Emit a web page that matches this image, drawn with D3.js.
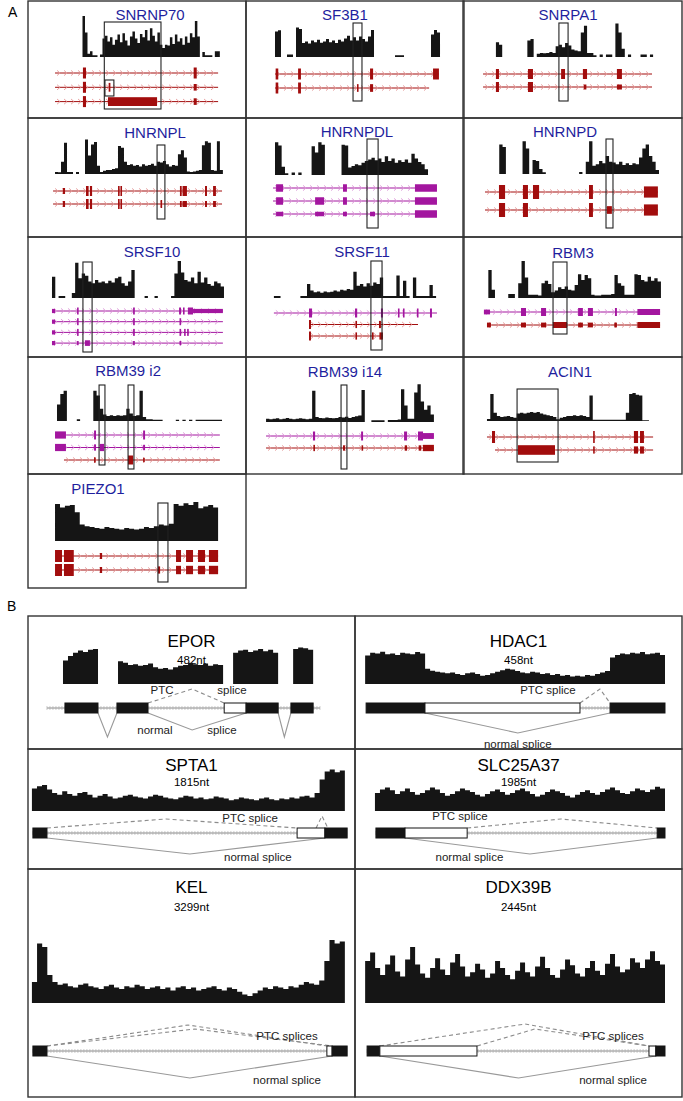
<!DOCTYPE html>
<html><head><meta charset="utf-8">
<script src="https://cdn.jsdelivr.net/npm/d3@7"></script>
<style>body{margin:0;background:#fff}svg{display:block}</style>
</head><body><svg id="c" width="683" height="1101"></svg>
<script>
// ================= PANEL A DATA =================
const genesA = ["SNRNP70","SF3B1","SNRPA1","HNRNPL","HNRNPDL","HNRNPD","SRSF10","SRSF11","RBM3","RBM39 i2","RBM39 i14","ACIN1","PIEZO1"];

// coverage (percent of track height), evenly binned across each gene's covered span
const cov_SNRNP70 = [100,60,8,14,4,4,0,6,45,52,38,48,30,42,55,36,58,40,28,50,62,45,34,56,48,66,40,70,52,38,60,30,22,30,28,48,32,55,38,46,30,50,35,58,48,88,50,0,12,4,4,4,0,14,14];
const cov_SF3B1 = [62,65,0,0,6,6,0,72,68,34,38,33,40,36,42,35,38,44,36,40,34,42,38,45,52,40,48,40,50,44,38,50,66,0,0,0,0,0,0,0,4,4,4,0,0,0,0,0,0,0,0,0,55,66,60];
const cov_SNRPA1 = [36,30,0,0,0,0,0,0,0,0,40,44,0,8,10,9,10,12,10,26,30,24,34,28,18,16,14,60,76,10,10,4,0,6,0,6,6,0,82,60,20,0,6,0,0,0,6,6,0,6];
const cov_HNRNPL = [5,4,30,76,5,5,0,5,0,0,84,45,72,78,20,5,8,10,10,12,14,68,64,30,22,24,20,22,18,24,20,22,25,20,30,28,32,24,18,22,20,48,58,40,6,5,6,8,10,70,80,76,10,8,80,10];
const cov_HNRNPDL = [80,72,20,4,0,6,0,6,0,0,0,70,55,80,74,0,0,0,0,0,74,72,18,22,26,24,30,34,38,42,36,40,32,46,34,40,30,36,32,38,30,52,40,32,26,14];
const cov_HNRNPD = [0,72,66,0,0,0,0,0,80,62,0,34,32,12,4,0,0,0,0,0,0,0,0,0,0,5,0,30,80,20,24,32,26,44,30,28,24,30,22,26,22,26,24,40,62,72,44,30,10];
const cov_SRSF10 = [52,0,5,5,0,0,12,86,48,60,54,40,36,44,38,40,36,42,38,48,52,36,30,40,68,0,0,0,5,0,0,5,0,0,0,0,5,60,90,62,44,40,50,36,64,38,50,34,30,40,36,28];
const cov_SRSF11 = [5,5,0,0,0,0,0,0,5,5,34,18,14,16,13,16,14,15,18,16,20,18,22,20,64,30,34,28,36,30,38,34,50,5,5,5,5,55,5,42,5,0,50,5,5,5,5,32,5];
const cov_RBM3 = [0,68,20,0,0,0,0,10,10,0,36,90,50,8,8,8,6,36,42,34,14,18,26,22,28,20,18,32,58,44,56,48,8,6,6,8,8,8,10,56,36,30,8,8,8,58,56,44,40,52,42,48,40];
const cov_RBM39i2 = [40,66,74,0,0,0,4,0,0,0,0,74,62,30,16,12,14,12,14,13,14,30,18,12,14,74,10,4,4,3,3,3,0,0,0,0,3,0,3,0,3,0,3,3,3,3,3,3,3,3];
const cov_RBM39i14 = [8,7,8,9,7,8,10,8,7,8,9,8,7,8,76,12,10,9,11,10,9,10,12,11,13,10,12,14,16,78,0,0,4,4,4,4,0,5,5,5,6,80,40,8,8,72,92,50,30,40,18];
const cov_ACIN1 = [5,66,20,12,10,11,12,10,8,18,20,18,20,22,20,22,18,16,14,12,10,4,8,10,12,12,14,12,14,12,10,62,3,3,3,3,3,3,3,3,3,3,20,66,68,64,62,2,2];
const cov_PIEZO1 = [90,82,86,88,70,40,36,34,32,30,34,32,30,28,32,30,28,30,34,32,36,40,38,42,90,86,92,88,95,80,84,88,82];
const covA = [cov_SNRNP70,cov_SF3B1,cov_SNRPA1,cov_HNRNPL,cov_HNRNPDL,cov_HNRNPD,cov_SRSF10,cov_SRSF11,cov_RBM3,cov_RBM39i2,cov_RBM39i14,cov_ACIN1,cov_PIEZO1];
// genomic span (0-100 window units) covered by each coverage track
const covSpanA = [[25,88],[13.3,89],[15.1,87.2],[12.4,89.4],[13.3,83.5],[15.1,89.9],[11,89.9],[12.8,87.2],[10.1,90.8],[13.3,89],[9.2,86.2],[11,85.3],[12.4,87.2]];

// transcripts: [colour, start, end, exons [start, end, relative height]]
const tx_SNRNP70 = [
  ["r",12.4,87.2,[[25.2,26.6,1],[76,77.4,1]]],
  ["r",12.4,87.2,[[25.2,26.6,1],[37,37.8,0.8],[76,77.4,0.6]]],
  ["r",12.4,87.2,[[25.2,26.6,1],[36.7,59.2,0.8],[76,77.4,0.6]]]];
const tx_SF3B1 = [
  ["r",13.3,88.5,[[13.6,14.8,1],[23.9,25.2,1],[56.9,58.3,1],[85.8,88.5,1]]],
  ["r",13.3,84,[[13.6,14.8,1],[23.9,25.2,1],[50.9,51.6,0.7],[56.9,58.3,0.7]]]];
const tx_SNRPA1 = [
  ["r",9.2,86.7,[[15.1,16.5,1],[29.8,32.1,1],[45,46.8,1],[55,56.9,1],[70.6,72.9,1]]],
  ["r",9.2,86.7,[[15.1,16.5,1],[29.8,32.1,1],[55.4,56.6,0.5],[70.6,72.9,0.5]]]];
const tx_HNRNPL = [
  ["r",11.5,89,[[16,17,0.6],[26.6,27.8,1],[28.4,29.4,1],[41.3,42,1],[42.4,42.9,1],[69.7,70.5,1],[70.9,72.9,1],[81.2,82.1,1],[84.9,86.2,1]]],
  ["r",11.5,89,[[16,17,0.6],[26.6,27.8,1],[28.4,29.4,1],[41.3,42,1],[42.4,42.9,1],[60.8,61.4,0.8],[69.7,70.5,0.6],[70.9,72.9,0.6],[81.2,82.1,0.6],[84.9,86.2,0.6]]]];
const tx_HNRNPDL = [
  ["m",12.4,87.6,[[13.8,17,1],[44.5,46.3,1],[77.5,87.6,1]]],
  ["m",12.4,87.6,[[13.8,17,1],[31.7,35.8,1],[44.5,46.3,1],[77.5,87.6,1]]],
  ["m",12.4,87.6,[[13.8,17,0.6],[31.7,35.8,0.6],[44.5,46.3,0.6],[56.9,59.2,0.6],[77.5,87.6,1]]]];
const tx_HNRNPD = [
  ["r",10.1,89.4,[[16.5,19.3,1],[27.5,29.8,1],[32.1,34.9,1],[57.8,59.6,1],[83,89.4,0.8]]],
  ["r",10.1,89.4,[[16.5,19.3,1],[27.5,29.8,1],[57.8,59.6,1],[66,68.3,0.55],[83,89.4,0.8]]]];
const tx_SRSF10 = [
  ["m",11,89.4,[[11,12.4,0.6],[22.5,23,1],[48.2,49,1],[69.3,70.2,1],[71.1,71.6,1],[73.4,75.7,1],[75.7,89.4,0.6]]],
  ["m",11,89.4,[[11,12.4,0.6],[22.5,23,1],[48.2,49,1],[69.5,70.2,1]]],
  ["m",11,89.4,[[11,12.4,0.6],[22.5,23,1],[48.2,49,1],[69.5,70.2,1],[71.6,72.1,1],[73,73.4,1]]],
  ["m",11,89.4,[[11,12.4,0.6],[22.5,23,0.6],[26.1,28.4,0.8],[48.2,49,0.6],[69.5,70.2,0.6]]]];
const tx_SRSF11 = [
  ["m",12.8,87.6,[[28.9,30.3,1],[50,51,1],[61.9,62.8,1],[69.7,70.2,1],[72,72.5,1],[78.4,78.9,1],[84.4,85.3,1]]],
  ["r",28.9,78.9,[[28.9,29.8,1],[50.2,50.8,0.8],[61,61.9,0.8]]],
  ["r",28.9,62.8,[[28.9,29.8,1],[50.2,50.8,0.8],[57.8,58.3,0.8],[61.2,62.8,0.8]]]];
const tx_RBM3 = [
  ["m",9.6,90.4,[[9.6,12.4,0.6],[26.6,28.9,1],[35.8,38.1,1],[52.8,55,1],[57.3,59.6,1],[69.7,70.6,1],[80,90.4,0.75]]],
  ["r",11,90.4,[[11,12.8,0.6],[26.6,28.9,0.6],[35.8,38.1,0.6],[41.3,47.7,0.75],[52.8,55,0.6],[57.3,59.6,0.6],[69.4,70.6,0.6],[80,90.4,0.75]]]];
const tx_RBM39i2 = [
  ["m",12.4,88,[[12.4,17.4,0.8],[30.3,31.2,1],[52.8,53.7,1]]],
  ["m",12.4,88,[[12.4,17.4,0.8],[30.3,31.2,0.7],[33,34.9,0.8],[52.8,53.7,0.6]]],
  ["r",16.5,88,[[30.3,31,0.6],[45.9,48.2,1],[52.8,53.3,0.5]]]];
const tx_RBM39i14 = [
  ["m",9.2,86.2,[[30.7,31.7,1],[52.8,53.7,1],[72.5,73.9,1],[78.9,81.2,1],[81.2,86.2,0.65]]],
  ["r",9.2,86.2,[[30.9,31.4,0.7],[44.5,45.4,0.6],[53,53.7,0.6],[72.8,73.9,0.6],[79.2,80.4,0.6],[81.2,86.2,0.7]]]];
const tx_ACIN1 = [
  ["r",11,87.2,[[13.3,14.7,1],[59.7,60.2,1],[78.4,80.3,1],[81.2,83,1]]],
  ["r",14.7,87.2,[[25.2,42.2,0.8],[59.7,60.2,0.6],[78.4,80.3,0.6],[81.2,83,0.6]]]];
const tx_PIEZO1 = [
  ["r",12.4,87.2,[[12.4,15.6,1],[16.5,21,1],[33,34,0.5],[67.9,70.2,1],[72.5,75.7,1],[78,81.2,1],[83,87.2,1]]],
  ["r",12.4,87.2,[[12.4,15.6,1],[16.5,21,1],[33,34,0.5],[59.6,60.6,0.6],[67.9,70.2,0.7],[72.5,75.7,0.7],[78,81.2,0.7],[83,87.2,0.7]]]];
const txA = [tx_SNRNP70,tx_SF3B1,tx_SNRPA1,tx_HNRNPL,tx_HNRNPDL,tx_HNRNPD,tx_SRSF10,tx_SRSF11,tx_RBM3,tx_RBM39i2,tx_RBM39i14,tx_ACIN1,tx_PIEZO1];
// highlighted regions (window units)
const boxesA = [[[35,61],[35.3,39.4]],[[49.1,53.2]],[[44,48.2]],[[59.2,62.8]],[[55.5,60.6]],[[65.6,68.8]],[[25.2,29.4]],[[57.3,62.4]],[[41.3,47.7]],[[32.6,35.3],[45.9,48.6]],[[43.6,46.3]],[[24.8,43.6]],[[59.6,64.2]]];

// ================= PANEL B DATA =================
const genesB = ["EPOR","HDAC1","SPTA1","SLC25A37","KEL","DDX39B"];
const lengthsB = ["482nt","458nt","1815nt","1985nt","3299nt","2445nt"];
const cov_EPOR = [62,74,82,88,84,90,92,0,0,0,0,60,56,50,52,48,50,54,44,40,42,38,44,48,50,56,52,50,54,48,52,50,0,0,82,88,90,84,88,92,86,90,82,0,0,0,92,96,94,90];
const cov_HDAC1 = [75,82,80,85,78,80,76,82,80,78,84,80,40,35,32,30,28,30,26,24,28,30,26,22,24,28,32,36,40,38,34,30,28,32,30,26,28,24,26,22,24,20,22,20,24,22,26,30,34,70,76,80,78,82,80,84,78,80,82,76];
const cov_SPTA1 = [50,55,58,48,40,36,44,38,34,40,42,36,30,34,38,32,28,30,34,36,32,30,28,32,36,34,30,28,26,30,34,32,28,30,26,28,32,30,28,24,26,30,28,26,24,28,30,26,24,28,26,30,28,32,34,30,40,70,88,92,86,90];
const cov_SLC25A37 = [40,48,52,46,38,44,50,42,36,40,46,52,48,40,34,38,44,50,46,42,36,32,38,44,48,42,36,40,46,50,44,38,32,36,42,48,44,40,34,30,36,42,46,40,36,42,48,52,46,40,38,44,50,46,42,48,54,50];
const cov_KEL = [30,85,80,40,30,26,28,24,22,26,28,24,22,20,24,26,22,20,24,22,26,24,20,22,24,20,22,18,22,24,20,22,18,20,22,24,20,18,22,20,16,12,10,14,18,22,20,24,22,20,24,22,26,30,28,26,32,60,90,85,88];
const cov_DDX39B = [60,72,50,40,55,68,45,38,62,80,55,42,36,50,64,48,40,58,70,52,38,44,56,48,36,42,60,50,40,34,46,58,44,38,52,66,50,40,36,48,62,54,42,38,50,60,46,40,56,70,52,44,48,64,58,50,62,74,60,55];
const covB = [cov_EPOR,cov_HDAC1,cov_SPTA1,cov_SLC25A37,cov_KEL,cov_DDX39B];
const covSpanB = [[10.7,87.2],[3.1,94.8],[1.2,96.9],[6.1,94.8],[1.2,96.9],[3.1,94.8]];
const geneSpanB = [[5.8,89.3],[68.8,78],[1.5,97.6],[6.4,94.8],[1.5,97.6],[3.7,94.8]];
// exons: [start, end, 'b' coding / 'w' PTC-containing]
const exonsB = [
  [[11.3,21.4,"b"],[27.2,36.7,"b"],[60,66.7,"w"],[66.7,76.5,"b"],[80.4,87.2,"b"]],
  [[3.4,21.4,"b"],[21.4,68.8,"w"],[78,94.8,"b"]],
  [[1.5,5.8,"b"],[82.3,90.8,"w"],[90.8,97.6,"b"]],
  [[6.4,15.3,"b"],[15.3,34.3,"w"],[92.4,94.8,"b"]],
  [[1.5,5.8,"b"],[91.4,93,"w"],[93,97.6,"b"]],
  [[3.7,7.6,"b"],[7.6,37.3,"w"],[89.9,92,"w"],[92,94.8,"b"]]];
// splice junctions: [donor, acceptor, apex position]
const ptcB = [
  [[36.7,60,50.2]],
  [[68.8,78,74.9]],
  [[5.8,82.3,42.2],[88.1,91.7,89.9]],
  [[34.3,92.4,63]],
  [[5.8,91.4,49],[5.8,93,51]],
  [[7.6,89.9,52],[37.3,89.9,55]]];
const normalB = [
  [[21.4,27.2,24.3],[36.7,66.7,50.2],[76.5,80.4,78.4]],
  [[21.4,78,49.8]],
  [[5.8,90.8,49.5]],
  [[15.3,92.4,53.5]],
  [[5.8,93,49.5]],
  [[7.6,92,50]]];
const labelsB = [
  [["PTC",41,-18],["splice",62.4,-18],["normal",38.8,22],["splice",59.3,22]],
  [["PTC splice",59,-18],["normal splice",49.8,36]],
  [["PTC splice",67.9,-15],["normal splice",70.3,24]],
  [["PTC splice",32.1,-17],["normal splice",35,24]],
  [["PTC splices",79.2,-15],["normal splice",79.2,29]],
  [["PTC splices",78.9,-15],["normal splice",78.9,29]]];

// ================= LAYOUT =================
const FONT = '"Liberation Sans", Arial, Helvetica, sans-serif';
const RED = "#a20d0d", RED_L = "#e59a9a", MAG = "#a3169f", MAG_L = "#dc96d8";
const TITLE = "#1f1f9e";
const svg = d3.select("#c");

const colA = [28, 246, 463], cellWA = 218;
const rowTopA = [1, 118, 237, 357, 474], lastBottomA = 588;
const layA = [
  {base:56,tx0:72,gap:14.3,exH:11,tx:56,ty:14,bx:[[21,108],[79,95]]},
  {base:56,tx0:73,gap:14,exH:11,tx:45.4,ty:14,bx:[[22,100]]},
  {base:56,tx0:73,gap:13,exH:10,tx:48.2,ty:14,bx:[[22,100]]},
  {base:56,tx0:73,gap:13,exH:10,tx:58.3,ty:15,bx:[[27,101]]},
  {base:57,tx0:70,gap:13,exH:7.5,tx:50.9,ty:14,bx:[[21,110]]},
  {base:56,tx0:74,gap:18,exH:14,tx:46.8,ty:14,bx:[[21,110]]},
  {base:61,tx0:74,gap:10.7,exH:7,tx:56.9,ty:15,bx:[[25,115]]},
  {base:61,tx0:76,gap:11.5,exH:9,tx:53.2,ty:15,bx:[[24,113]]},
  {base:61,tx0:75,gap:13,exH:8,tx:50.5,ty:16,bx:[[25,97]]},
  {base:64,tx0:78,gap:12.5,exH:9,tx:45.9,ty:14,bx:[[28,108],[28,112]]},
  {base:65,tx0:79,gap:12,exH:9,tx:45.4,ty:15,bx:[[28,112]]},
  {base:64,tx0:80,gap:13,exH:12,tx:49.1,ty:15,bx:[[32,105]]},
  {base:67,tx0:82,gap:14,exH:12,tx:32.1,ty:15,bx:[[29,108]]}];
const TRACK_H = 41;

function coverage(g, vals, span, x, yb, h) {
  const n = vals.length, step = (span[1]-span[0]) / n;
  const pts = vals.map((v,k) => ({p: span[0] + k*step, v}));
  pts.push({p: span[1], v: vals[n-1]});
  const y = d3.scaleLinear().domain([0,100]).range([yb, yb-h]);
  g.append("path")
    .attr("d", d3.area().x(d => x(d.p)).y0(yb).y1(d => y(d.v)).curve(d3.curveStepAfter)(pts))
    .attr("fill", "#151515");
}

// panel labels
svg.append("text").attr("x",8).attr("y",17).text("A").attr("font-family",FONT).attr("font-size",14);
svg.append("text").attr("x",7).attr("y",611).text("B").attr("font-family",FONT).attr("font-size",14);

genesA.forEach((name, i) => {
  const col = i % 3, row = Math.floor(i / 3);
  const left = colA[col], top = rowTopA[row];
  const bottom = row < 4 ? rowTopA[row+1] : lastBottomA;
  const L = layA[i];
  const g = svg.append("g");
  g.append("rect").attr("x",left).attr("y",top).attr("width", cellWA + (col===2?1:0)).attr("height", bottom-top)
    .attr("fill","none").attr("stroke","#333").attr("stroke-width",1.4);
  const x = d3.scaleLinear().domain([0,100]).range([left, left+cellWA]);
  g.append("text").attr("x", x(L.tx)).attr("y", top+L.ty).attr("dy","0.36em").attr("text-anchor","middle")
    .attr("font-family",FONT).attr("font-size",15).attr("fill",TITLE).text(name);
  coverage(g, covA[i], covSpanA[i], x, top+L.base, TRACK_H);
  txA[i].forEach((t, j) => {
    const y = top + L.tx0 + j*L.gap;
    const c = t[0]==="r" ? RED : MAG, cl = t[0]==="r" ? RED_L : MAG_L;
    const x0 = x(t[1]), x1 = x(t[2]);
    g.append("line").attr("x1",x0).attr("x2",x1).attr("y1",y).attr("y2",y).attr("stroke",c).attr("stroke-width",1);
    g.selectAll(null).data(d3.range(x0+4, x1-2, 7)).enter().append("path")
      .attr("d", p => `M${p-2},${y-2.6}L${p+1},${y}L${p-2},${y+2.6}`)
      .attr("fill","none").attr("stroke",cl).attr("stroke-width",0.9);
    g.selectAll(null).data(t[3]).enter().append("rect")
      .attr("x", e => x(e[0])).attr("width", e => Math.max(1.6, x(e[1])-x(e[0])))
      .attr("y", e => y - L.exH*e[2]/2).attr("height", e => L.exH*e[2]).attr("fill", c);
  });
  boxesA[i].forEach((b, k) => {
    g.append("rect").attr("x", x(b[0])).attr("width", x(b[1])-x(b[0]))
      .attr("y", top+L.bx[k][0]).attr("height", L.bx[k][1]-L.bx[k][0])
      .attr("fill","none").attr("stroke","#222").attr("stroke-width",1.1);
  });
});

// ================= PANEL B =================
const colB = [28, 355], cellWB = 327;
const rowB = [
  {top:616, bottom:749, title:25, nt:44, base:68, h:38, gene:92, exH:10},
  {top:749, bottom:869, title:16, nt:33, base:62, h:45, gene:84, exH:10},
  {top:869, bottom:1097, title:18, nt:38, base:134, h:70, gene:182, exH:10}];
const ptcRise = [[-19],[-19],[-14,-17],[-14],[-26,-22],[-27,-22]];
const normDrop = [[29,22,29],[25],[21],[21],[27],[27]];

genesB.forEach((name, i) => {
  const col = i % 2, R = rowB[Math.floor(i/2)];
  const left = colB[col];
  const g = svg.append("g");
  g.append("rect").attr("x",left).attr("y",R.top).attr("width",cellWB).attr("height",R.bottom-R.top)
    .attr("fill","none").attr("stroke","#333").attr("stroke-width",1.4);
  const x = d3.scaleLinear().domain([0,100]).range([left, left+cellWB]);
  const cx = left + cellWB/2;
  g.append("text").attr("x",cx).attr("y",R.top+R.title).attr("dy","0.36em").attr("text-anchor","middle")
    .attr("font-family",FONT).attr("font-size",17).text(name);
  g.append("text").attr("x",cx).attr("y",R.top+R.nt).attr("dy","0.36em").attr("text-anchor","middle")
    .attr("font-family",FONT).attr("font-size",11.5).text(lengthsB[i]);
  coverage(g, covB[i], covSpanB[i], x, R.top+R.base, R.h);
  const gy = R.top + R.gene;
  const gs = geneSpanB[i];
  g.append("line").attr("x1",x(gs[0])).attr("x2",x(gs[1])).attr("y1",gy).attr("y2",gy).attr("stroke","#888").attr("stroke-width",1);
  g.selectAll(null).data(d3.range(x(gs[0]), x(gs[1]), 3)).enter().append("line")
    .attr("x1",p=>p).attr("x2",p=>p).attr("y1",gy-2).attr("y2",gy+2).attr("stroke","#aaa").attr("stroke-width",0.6);
  ptcB[i].forEach((s, k) => {
    const r = ptcRise[i][k];
    g.append("path").attr("d", `M${x(s[0])},${gy-5}L${x(s[2])},${gy+r}L${x(s[1])},${gy-5}`)
      .attr("fill","none").attr("stroke","#8c8c8c").attr("stroke-width",1.1).attr("stroke-dasharray","4,3");
  });
  normalB[i].forEach((s, k) => {
    const d = normDrop[i][k];
    g.append("path").attr("d", `M${x(s[0])},${gy+5}L${x(s[2])},${gy+d}L${x(s[1])},${gy+5}`)
      .attr("fill","none").attr("stroke","#999").attr("stroke-width",1.1);
  });
  g.selectAll(null).data(exonsB[i]).enter().append("rect")
    .attr("x", e => x(e[0])).attr("width", e => x(e[1])-x(e[0]))
    .attr("y", gy - R.exH/2).attr("height", R.exH)
    .attr("fill", e => e[2]==="b" ? "#151515" : "#fff").attr("stroke","#151515").attr("stroke-width",1);
  labelsB[i].forEach(l => {
    g.append("text").attr("x", x(l[1])).attr("y", gy + l[2]).attr("dy","0.36em").attr("text-anchor","middle")
      .attr("font-family",FONT).attr("font-size",11.5).attr("fill","#222").text(l[0]);
  });
});
</script>
</body></html>
